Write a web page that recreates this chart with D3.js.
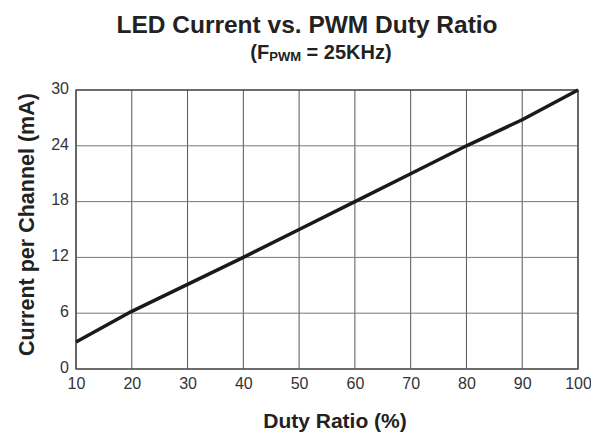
<!DOCTYPE html>
<html>
<head>
<meta charset="utf-8">
<script src="https://cdn.jsdelivr.net/npm/d3@7"></script>
<style>
  body { margin: 0; background: #fff; }
  text { font-family: "Liberation Sans", Arial, sans-serif; }
</style>
</head>
<body>
<div id="chart-area"></div>
<script>
var dutyRatio = [10, 20, 30, 40, 50, 60, 70, 80, 90, 100];
var currentMA = [2.9, 6.2, 9.1, 12.0, 15.0, 18.0, 21.0, 24.0, 26.8, 30.0];
var xTicks = [10, 20, 30, 40, 50, 60, 70, 80, 90, 100];
var yTicks = [0, 6, 12, 18, 24, 30];

var margin = { left: 76, right: 13, top: 90, bottom: 66 };
var width = 591 - margin.left - margin.right;
var height = 435 - margin.top - margin.bottom;

var svg = d3
  .select("#chart-area")
  .append("svg")
  .attr("width", 591)
  .attr("height", 435);

var xscale = d3.scaleLinear().domain([10, 100]).range([0, width]);
var yscale = d3.scaleLinear().domain([0, 30]).range([height, 0]);

var g = svg
  .append("g")
  .attr("transform", "translate(" + margin.left + "," + margin.top + ")");

// grid
g.selectAll(".vgrid")
  .data(xTicks)
  .enter()
  .append("line")
  .attr("x1", function (d) { return xscale(d); })
  .attr("x2", function (d) { return xscale(d); })
  .attr("y1", 0)
  .attr("y2", height)
  .attr("stroke", "#555")
  .attr("stroke-width", 1);

g.selectAll(".hgrid")
  .data(yTicks)
  .enter()
  .append("line")
  .attr("x1", 0)
  .attr("x2", width)
  .attr("y1", function (d) { return yscale(d); })
  .attr("y2", function (d) { return yscale(d); })
  .attr("stroke", "#777")
  .attr("stroke-width", 1);

g.append("rect")
  .attr("width", width)
  .attr("height", height)
  .attr("fill", "none")
  .attr("stroke", "#444")
  .attr("stroke-width", 1.3);

// axes (labels only)
var xAxis = d3.axisBottom(xscale).tickValues(xTicks).tickSize(0).tickPadding(9);
g.append("g")
  .attr("transform", "translate(0," + height + ")")
  .call(xAxis)
  .call(function (s) { s.select(".domain").remove(); })
  .selectAll("text")
  .attr("font-size", "16px")
  .attr("font-family", "Liberation Sans, Arial, sans-serif")
  .attr("fill", "#333");

var yAxis = d3.axisLeft(yscale).tickValues(yTicks).tickSize(0).tickPadding(7);
g.append("g")
  .call(yAxis)
  .call(function (s) { s.select(".domain").remove(); })
  .selectAll("text")
  .attr("font-size", "16px")
  .attr("font-family", "Liberation Sans, Arial, sans-serif")
  .attr("fill", "#333")
  .attr("dy", "0.2em");

// curve
var line = d3
  .line()
  .x(function (d, i) { return xscale(dutyRatio[i]); })
  .y(function (d) { return yscale(d); });

g.append("path")
  .datum(currentMA)
  .attr("d", line)
  .attr("fill", "none")
  .attr("stroke", "#1a1a1a")
  .attr("stroke-width", 3.5)
  .attr("stroke-linejoin", "round");

// titles
svg.append("text")
  .attr("x", 307)
  .attr("y", 33)
  .attr("text-anchor", "middle")
  .attr("font-size", "24.5px")
  .attr("font-weight", "bold")
  .attr("fill", "#222")
  .text("LED Current vs. PWM Duty Ratio");

var sub = svg.append("text")
  .attr("x", 321)
  .attr("y", 59)
  .attr("text-anchor", "middle")
  .attr("font-size", "20px")
  .attr("font-weight", "bold")
  .attr("fill", "#222");
sub.append("tspan").text("(F");
sub.append("tspan").attr("font-size", "13px").attr("dy", 2).text("PWM");
sub.append("tspan").attr("dy", -2).text(" = 25KHz)");

svg.append("text")
  .attr("x", 335)
  .attr("y", 428)
  .attr("text-anchor", "middle")
  .attr("font-size", "21px")
  .attr("font-weight", "bold")
  .attr("fill", "#222")
  .text("Duty Ratio (%)");

svg.append("text")
  .attr("transform", "translate(34,224.5) rotate(-90)")
  .attr("text-anchor", "middle")
  .attr("font-size", "21.5px")
  .attr("font-weight", "bold")
  .attr("fill", "#222")
  .text("Current per Channel (mA)");
</script>
</body>
</html>
